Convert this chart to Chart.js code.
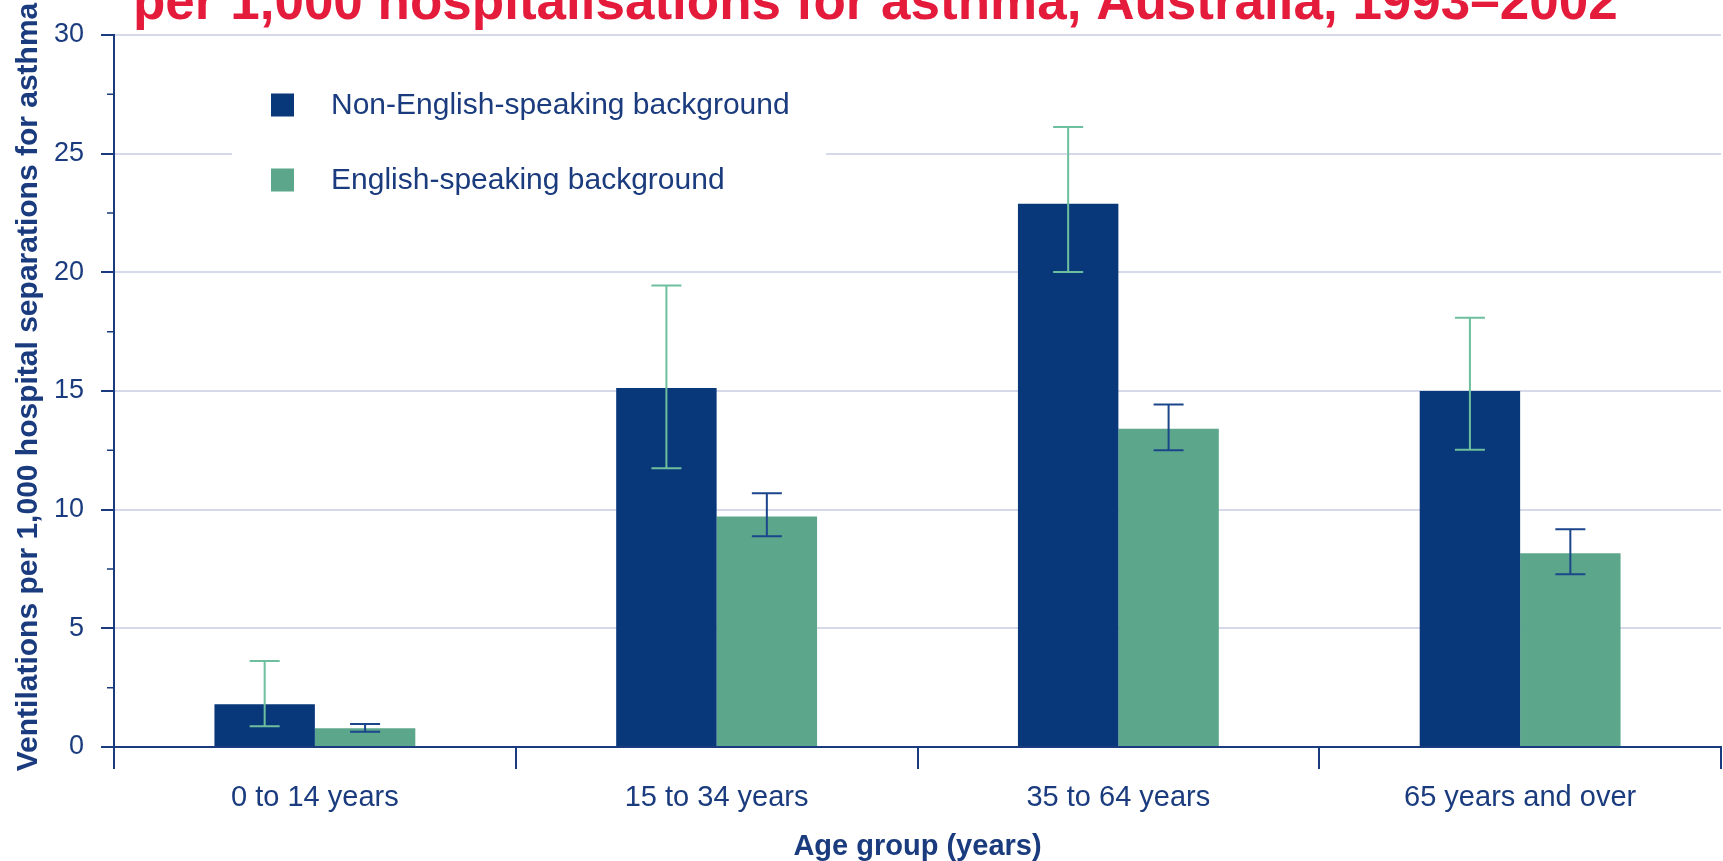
<!DOCTYPE html>
<html>
<head>
<meta charset="utf-8">
<title>Ventilations per 1,000 hospitalisations for asthma</title>
<script src="https://cdn.jsdelivr.net/npm/chart.js@4.4.1/dist/chart.umd.min.js"></script>
<style>
  html, body { margin: 0; padding: 0; background: #fff; overflow: hidden; }
  canvas { display: block; }
</style>
</head>
<body>
<canvas id="chart" width="1723" height="861"></canvas>
<script>
// Data
const categories = ['0 to 14 years', '15 to 34 years', '35 to 64 years', '65 years and over'];
const nesbValues = [1.80, 15.13, 22.89, 15.00];
const nesbLow = [0.87, 11.75, 20.01, 12.52];
const nesbHigh = [3.62, 19.44, 26.12, 18.09];
const esbValues = [0.79, 9.71, 13.41, 8.16];
const esbLow = [0.64, 8.88, 12.50, 7.28];
const esbHigh = [0.97, 10.69, 14.43, 9.17];
const yMinorTicks = [2.5, 7.5, 12.5, 17.5, 22.5, 27.5];

const titleText = 'per 1,000 hospitalisations for asthma, Australia, 1993\u20132002';
const yTitleText = 'Ventilations per 1,000 hospital separations for asthma';

const NAVY = '#1a3b7d';
const DARK_BAR = '#08377a';
const GREEN_BAR = '#5ca78b';
const FONT = "'Liberation Sans', Arial, sans-serif";

// error bars (95% CI style whiskers)
const errorBars = {
    id: 'errorBars',
    afterDatasetsDraw(chart) {
        const ctx = chart.ctx;
        const y = chart.scales.y;
        chart.data.datasets.forEach((ds, i) => {
            const meta = chart.getDatasetMeta(i);
            meta.data.forEach((bar, j) => {
                const top = y.getPixelForValue(ds.errHigh[j]);
                const bottom = y.getPixelForValue(ds.errLow[j]);
                ctx.save();
                ctx.strokeStyle = ds.errColor;
                ctx.lineWidth = 2;
                ctx.beginPath();
                ctx.moveTo(bar.x, top);
                ctx.lineTo(bar.x, bottom);
                ctx.moveTo(bar.x - 15, top);
                ctx.lineTo(bar.x + 15, top);
                ctx.moveTo(bar.x - 15, bottom);
                ctx.lineTo(bar.x + 15, bottom);
                ctx.stroke();
                ctx.restore();
            });
        });
    }
};

// short minor ticks on the y axis
const minorTicks = {
    id: 'minorTicks',
    afterDraw(chart) {
        const ctx = chart.ctx;
        const y = chart.scales.y;
        ctx.save();
        ctx.strokeStyle = NAVY;
        ctx.lineWidth = 1.5;
        ctx.beginPath();
        yMinorTicks.forEach(v => {
            const py = y.getPixelForValue(v);
            ctx.moveTo(y.right - 7, py);
            ctx.lineTo(y.right, py);
        });
        ctx.stroke();
        ctx.restore();
    }
};

// legend inside the plot, on a white box
const innerLegend = {
    id: 'innerLegend',
    afterDatasetsDraw(chart) {
        const ctx = chart.ctx;
        ctx.save();
        ctx.fillStyle = '#fff';
        ctx.fillRect(232, 62, 594, 160);
        ctx.font = '30px ' + FONT;
        ctx.textBaseline = 'middle';
        chart.data.datasets.forEach((ds, i) => {
            const cy = 105 + i * 75;
            ctx.fillStyle = ds.backgroundColor;
            ctx.fillRect(271, cy - 11.5, 23, 23);
            ctx.fillStyle = NAVY;
            ctx.fillText(ds.label, 331, cy + 1);
        });
        ctx.restore();
    }
};

// cut-off red heading and the vertical axis title
const headings = {
    id: 'headings',
    afterDraw(chart) {
        const ctx = chart.ctx;
        ctx.save();
        ctx.fillStyle = '#e41b3b';
        ctx.font = 'bold 53px ' + FONT;
        ctx.textBaseline = 'alphabetic';
        ctx.fillText(titleText, 133, 19);

        const area = chart.chartArea;
        ctx.translate(29, (area.top + area.bottom) / 2 - 4);
        ctx.rotate(-Math.PI / 2);
        ctx.fillStyle = NAVY;
        ctx.font = 'bold 30px ' + FONT;
        ctx.textAlign = 'center';
        ctx.textBaseline = 'middle';
        ctx.fillText(yTitleText, 0, 0);
        ctx.restore();
    }
};

new Chart(document.getElementById('chart'), {
    type: 'bar',
    data: {
        labels: categories,
        datasets: [
            {
                label: 'Non-English-speaking background',
                data: nesbValues,
                errLow: nesbLow,
                errHigh: nesbHigh,
                errColor: '#6dbf9d',
                backgroundColor: DARK_BAR,
                categoryPercentage: 0.5,
                barPercentage: 1.0
            },
            {
                label: 'English-speaking background',
                data: esbValues,
                errLow: esbLow,
                errHigh: esbHigh,
                errColor: '#1b468c',
                backgroundColor: GREEN_BAR,
                categoryPercentage: 0.5,
                barPercentage: 1.0
            }
        ]
    },
    options: {
        responsive: false,
        devicePixelRatio: 1,
        animation: false,
        layout: { padding: { top: 35, right: 2, left: 0, bottom: 0 } },
        plugins: {
            legend: { display: false },
            tooltip: { enabled: false }
        },
        scales: {
            x: {
                afterFit: s => { s.height = 114; },
                border: { color: NAVY, width: 2 },
                grid: {
                    offset: true,
                    drawOnChartArea: false,
                    color: NAVY,
                    lineWidth: 2,
                    tickLength: 22
                },
                ticks: {
                    color: NAVY,
                    padding: 12,
                    font: { family: FONT, size: 29 }
                },
                title: {
                    display: true,
                    text: 'Age group (years)',
                    color: NAVY,
                    padding: { top: 0, bottom: -3 },
                    font: { family: FONT, size: 29, weight: 'bold' }
                }
            },
            y: {
                min: 0,
                max: 30,
                afterFit: s => { s.width = 114; },
                border: { color: NAVY, width: 2 },
                grid: {
                    color: '#d6d9ea',
                    lineWidth: 2,
                    tickColor: NAVY,
                    tickWidth: 2,
                    tickLength: 13
                },
                ticks: {
                    stepSize: 5,
                    color: NAVY,
                    padding: 17,
                    font: { family: FONT, size: 27 }
                }
            }
        }
    },
    plugins: [errorBars, minorTicks, innerLegend, headings]
});
</script>
</body>
</html>
